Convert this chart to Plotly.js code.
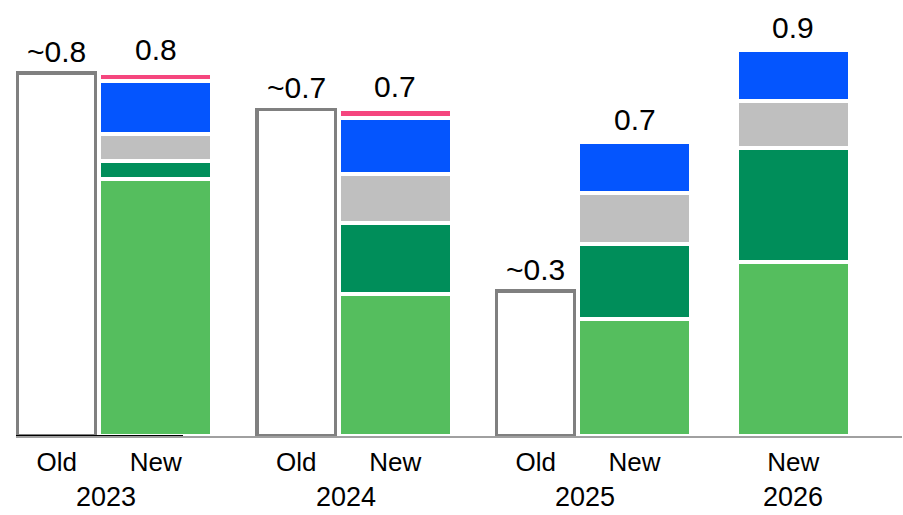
<!DOCTYPE html>
<html>
<head>
<meta charset="utf-8">
<script src="https://cdn.plot.ly/plotly-3.0.1.min.js"></script>
<style>html,body{margin:0;padding:0;background:#fff;}#chart{width:903px;height:515px;}</style>
</head>
<body>
<div id="chart"></div>
<script>
// ---- data ----
const years = ['2023', '2024', '2025', '2026'];
const oldValues = [0.802, 0.722, 0.320, null];
const oldLabels = ['~0.8', '~0.7', '~0.3', null];
const newLabels = ['0.8', '0.7', '0.7', '0.9'];
const lightGreen = [0.568, 0.313, 0.259, 0.385];
const darkGreen  = [0.040, 0.157, 0.165, 0.252];
const grey       = [0.059, 0.110, 0.113, 0.104];
const blue       = [0.118, 0.122, 0.112, 0.112];
const pink       = [0.018, 0.020, null, null];

// ---- layout (slot positions along x, in pixel-like axis units) ----
const oldPos = [56.7, 296.3, 535.8, null];
const newPos = [155.7, 395.2, 634.5, 793.3];
const FONT = 'Liberation Sans, Arial, sans-serif';

const segColors = ['#55BE5E', '#008E5A', '#BFBFBF', '#0455FE', '#F5467E'];
const segData = [lightGreen, darkGreen, grey, blue, pink];

const traces = [];
// Old outlined bars
const oIdx = oldValues.map((v, i) => i).filter(i => oldValues[i] != null);
traces.push({
  type: 'bar',
  x: oIdx.map(i => oldPos[i]),
  y: oIdx.map(i => oldValues[i]),
  width: 78.5,
  marker: {color: 'rgba(255,255,255,0)', line: {color: '#808080', width: 3.5}},
  hoverinfo: 'skip'
});
// New stacked bars
segData.forEach((arr, k) => {
  traces.push({
    type: 'bar',
    x: newPos,
    y: arr,
    width: 112.7,
    marker: {color: segColors[k], line: {color: '#FFFFFF', width: 4}},
    hoverinfo: 'skip'
  });
});

const annotations = [];
oIdx.forEach(i => {
  annotations.push({x: oldPos[i], y: oldValues[i], xref: 'x', yref: 'y', text: oldLabels[i],
    showarrow: false, yanchor: 'middle', yshift: 22, font: {family: FONT, size: 30, color: '#000'}});
});
newPos.forEach((p, i) => {
  const total = segData.reduce((s, a) => s + (a[i] || 0), 0);
  annotations.push({x: p, y: total, xref: 'x', yref: 'y', text: newLabels[i],
    showarrow: false, yanchor: 'middle', yshift: 23, font: {family: FONT, size: 30, color: '#000'}});
});
years.forEach((yr, i) => {
  const c = oldPos[i] != null ? (oldPos[i] + newPos[i]) / 2 : newPos[i];
  annotations.push({x: c, y: 0, xref: 'x', yref: 'paper', text: yr, showarrow: false,
    yanchor: 'middle', yshift: -61, font: {family: FONT, size: 27, color: '#000'}});
});

const tickvals = [], ticktext = [];
years.forEach((yr, i) => {
  if (oldPos[i] != null) { tickvals.push(oldPos[i]); ticktext.push('Old'); }
  tickvals.push(newPos[i]); ticktext.push('New');
});

const layout = {
  width: 903, height: 515,
  margin: {l: 16, r: 1, t: 0, b: 79},
  paper_bgcolor: '#fff', plot_bgcolor: '#fff',
  barmode: 'stack',
  showlegend: false,
  xaxis: {range: [16, 902], tickvals: tickvals, ticktext: ticktext, ticks: '',
    ticklabelstandoff: 2,
    showgrid: false, zeroline: false, showline: true, linecolor: '#A0A0A0', linewidth: 2,
    tickfont: {family: FONT, size: 26, color: '#000'}, fixedrange: true},
  yaxis: {range: [0, 436 / 452.5], visible: false, showgrid: false, zeroline: false, fixedrange: true},
  shapes: [{type: 'line', xref: 'x', yref: 'y', x0: 16, x1: 183, y0: 0, y1: 0,
    line: {color: '#000', width: 2}, layer: 'above'}],
  annotations: annotations,
  font: {family: FONT}
};

Plotly.newPlot('chart', traces, layout, {displayModeBar: false, staticPlot: true});
</script>
</body>
</html>
